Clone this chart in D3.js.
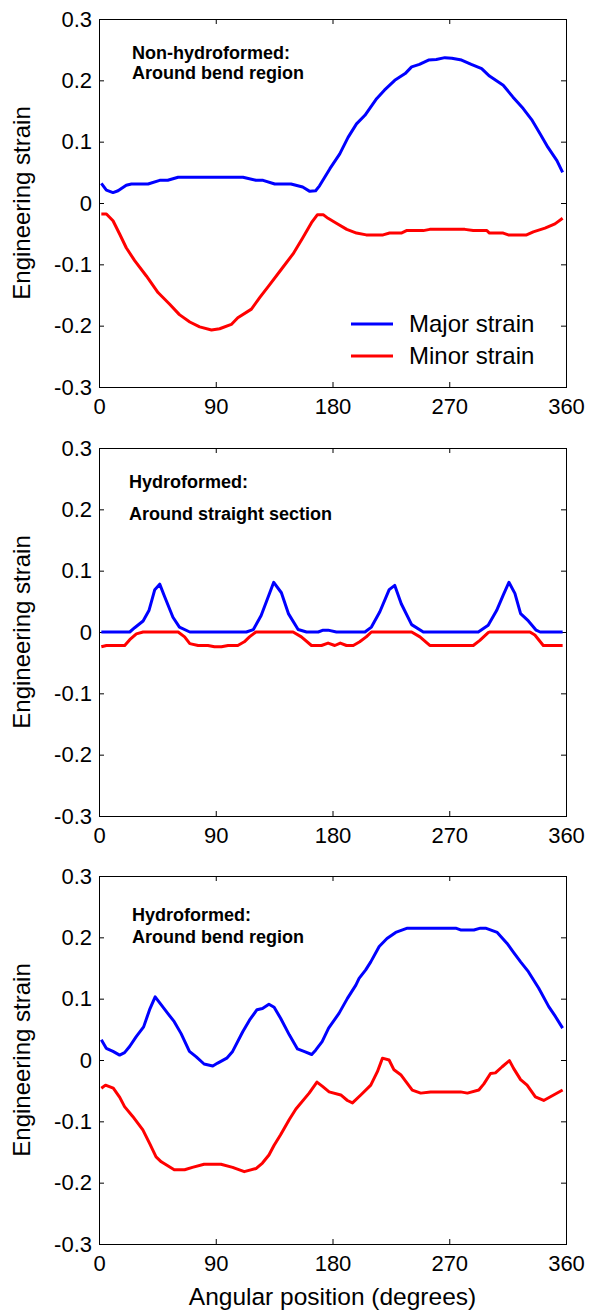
<!DOCTYPE html>
<html>
<head>
<meta charset="utf-8">
<script src="https://cdn.jsdelivr.net/npm/d3@7"></script>
<style>
  body { margin: 0; background: #fff; }
  text { font-family: "Liberation Sans", Arial, sans-serif; fill: #000; }
</style>
</head>
<body>
<div id="chart"></div>
<script>
// axis ticks
const xTicks = [0, 90, 180, 270, 360];
const yTicks = [-0.3, -0.2, -0.1, 0, 0.1, 0.2, 0.3];
const seriesNames = ["Major strain", "Minor strain"];

// panel titles
const titles = [
  ["Non-hydroformed:", "Around bend region"],
  ["Hydroformed:", "Around straight section"],
  ["Hydroformed:", "Around bend region"]
];

// [angle (deg), strain]
const bendMajor = [[1.8,0.032],[5.7,0.021],[10.8,0.017],[14.7,0.020],[21,0.029],[25,0.031],[37.8,0.031],[46.8,0.037],[53,0.037],[61,0.042],[70,0.042],[111,0.042],[121,0.037],[126.5,0.037],[135.5,0.031],[148,0.031],[157,0.026],[162.5,0.019],[167,0.020],[170,0.028],[178,0.056],[185.6,0.080],[192,0.107],[198.5,0.129],[205,0.143],[214,0.170],[220,0.184],[228,0.200],[236,0.211],[241,0.222],[247,0.226],[254,0.233],[260,0.234],[266.6,0.237],[272,0.236],[279.5,0.233],[287,0.226],[295,0.219],[301,0.207],[311.6,0.192],[319,0.173],[327,0.154],[333.5,0.136],[340,0.113],[346,0.091],[353,0.069],[357.4,0.050]];
const bendMinor = [[1.8,-0.018],[5.7,-0.018],[10.8,-0.029],[16,-0.051],[21,-0.073],[27.5,-0.094],[36.5,-0.119],[45.5,-0.146],[54.5,-0.165],[62,-0.182],[70,-0.194],[77.6,-0.202],[86.7,-0.207],[93,-0.205],[102,-0.198],[107,-0.187],[117.5,-0.173],[124,-0.154],[131.6,-0.133],[140.6,-0.108],[149.6,-0.083],[157,-0.057],[163.8,-0.032],[168.4,-0.019],[172.8,-0.019],[176.6,-0.025],[183,-0.033],[191,-0.043],[198.5,-0.049],[206,-0.052],[219,-0.052],[224,-0.049],[233,-0.049],[237,-0.045],[250,-0.045],[255,-0.043],[282,-0.043],[288.5,-0.045],[299,-0.045],[301,-0.049],[311.6,-0.049],[315.5,-0.052],[329.6,-0.052],[334.8,-0.047],[343.8,-0.041],[351.5,-0.034],[357.4,-0.025]];

const straightMajor = [[1.8,0],[23.7,0],[27.5,0.007],[34,0.018],[38.5,0.035],[43,0.069],[46.8,0.078],[50.7,0.057],[57,0.024],[62,0.008],[70,0],[113.6,0],[119,0.004],[125,0.027],[130.4,0.057],[134.7,0.081],[140.6,0.064],[146,0.030],[153.5,0.004],[160,0],[169,0],[172.8,0.003],[176.6,0.003],[183,0],[205,0],[210,0.008],[216.5,0.033],[223.7,0.069],[228,0.076],[233,0.046],[241,0.012],[250,0],[292.4,0],[300,0.011],[306.5,0.035],[311.6,0.060],[316,0.081],[320.6,0.063],[325,0.030],[331,0.018],[337,0.003],[340,0],[357.4,0]];
const straightMinor = [[1.8,-0.024],[5.7,-0.022],[19.8,-0.022],[23.7,-0.0125],[28.8,-0.003],[34,0],[61,0],[66,-0.008],[70,-0.019],[76.4,-0.022],[84,-0.022],[89,-0.024],[94.4,-0.024],[99.5,-0.022],[107,-0.022],[112,-0.016],[116,-0.008],[121,0],[149.6,0],[156,-0.008],[163.8,-0.022],[171.5,-0.022],[176.6,-0.018],[181.8,-0.022],[186,-0.018],[190.8,-0.022],[196,-0.022],[201,-0.016],[206,-0.008],[210,0],[241,0],[247.4,-0.008],[255,-0.022],[288.5,-0.022],[293.6,-0.0136],[300,-0.001],[301,0],[332.2,0],[336,-0.005],[342.5,-0.022],[357.4,-0.022]];

const hydroBendMajor = [[1.8,0.033],[5.6,0.019],[10.8,0.014],[15.9,0.008],[19.7,0.012],[23.6,0.022],[28.7,0.038],[34.4,0.054],[39,0.082],[43.3,0.103],[48,0.090],[53,0.076],[58,0.0625],[63.3,0.043],[69.7,0.014],[75,0.005],[81,-0.0065],[87.7,-0.0098],[91.5,-0.005],[98.5,0.003],[103,0.014],[110.8,0.046],[116,0.065],[121.8,0.082],[126,0.084],[131,0.091],[135,0.086],[140,0.068],[146.7,0.041],[153,0.018],[158,0.014],[164,0.009],[167,0.016],[172,0.030],[177,0.052],[185,0.076],[191.5,0.1005],[198,0.122],[200.5,0.133],[205.6,0.147],[209.5,0.160],[216,0.185],[222,0.198],[228.7,0.208],[237.7,0.215],[275,0.215],[278.7,0.212],[289,0.212],[294,0.215],[298,0.215],[307,0.208],[314.6,0.190],[319.7,0.175],[325,0.160],[331,0.144],[339,0.117],[346.7,0.087],[351.8,0.071],[357.4,0.052]];
const hydroBendMinor = [[1.8,-0.046],[5,-0.041],[11,-0.046],[16,-0.061],[19.7,-0.076],[26,-0.092],[33.8,-0.114],[39,-0.136],[44,-0.158],[48,-0.166],[58,-0.179],[66,-0.179],[72,-0.175],[81,-0.170],[94,-0.170],[103,-0.175],[112,-0.182],[121,-0.177],[126,-0.168],[131,-0.155],[135,-0.139],[140,-0.122],[146.7,-0.097],[151.8,-0.080],[162,-0.054],[168,-0.036],[172.3,-0.043],[177.4,-0.052],[186.4,-0.057],[191.5,-0.066],[195.4,-0.070],[201.8,-0.057],[209.5,-0.041],[214.6,-0.019],[218.5,0.003],[223.6,0],[227.4,-0.016],[232.6,-0.024],[241.5,-0.049],[248,-0.054],[255.6,-0.052],[278.7,-0.052],[284,-0.054],[292.8,-0.049],[296.7,-0.039],[301.8,-0.022],[305.6,-0.021],[310.8,-0.011],[316.4,-0.001],[319.7,-0.014],[325,-0.032],[330,-0.041],[336.4,-0.060],[342.8,-0.066],[348,-0.060],[357.4,-0.049]];

const panelSeries = [
  [bendMajor, bendMinor],
  [straightMajor, straightMinor],
  [hydroBendMajor, hydroBendMinor]
];

const width = 593, height = 1313;
const left = 99, right = 566, plotH = 368;
const panelTops = [19, 448, 876];
const titleOffsets = [[40, 60], [40, 72], [45, 67]];
const titleX = [132, 129, 132];
const colors = ["#0000ff", "#ff0000"];

const svg = d3.select("#chart")
  .append("svg")
  .attr("width", width)
  .attr("height", height);

const x = d3.scaleLinear().domain([0, 360]).range([left, right]);

panelSeries.forEach(function(series, i) {
  const top = panelTops[i];
  const y = d3.scaleLinear().domain([-0.3, 0.3]).range([top + plotH, top]);
  const g = svg.append("g");
  const fmt = d => d === 0 ? "0" : d3.format(".1f")(d).replace("−", "-");

  // bottom axis with labels, ticks pointing inward
  g.append("g")
    .attr("transform", `translate(0, ${top + plotH})`)
    .call(d3.axisBottom(x).tickValues(xTicks).tickSizeInner(-5).tickSizeOuter(0).tickPadding(11))
    .call(a => a.select(".domain").remove())
    .selectAll("text").style("font-size", "22px");

  // top axis, ticks only
  g.append("g")
    .attr("transform", `translate(0, ${top})`)
    .call(d3.axisTop(x).tickValues(xTicks).tickSizeInner(-5).tickSizeOuter(0).tickFormat(""))
    .call(a => a.select(".domain").remove());

  // left axis
  g.append("g")
    .attr("transform", `translate(${left}, 0)`)
    .call(d3.axisLeft(y).tickValues(yTicks).tickSizeInner(-5).tickSizeOuter(0).tickPadding(7).tickFormat(fmt))
    .call(a => a.select(".domain").remove())
    .selectAll("text").style("font-size", "22px");

  // right axis, ticks only
  g.append("g")
    .attr("transform", `translate(${right}, 0)`)
    .call(d3.axisRight(y).tickValues(yTicks).tickSizeInner(-5).tickSizeOuter(0).tickFormat(""))
    .call(a => a.select(".domain").remove());

  g.selectAll(".tick line").attr("stroke", "#000");

  // frame (half-pixel offset keeps it crisp)
  g.append("rect")
    .attr("x", left + 0.5)
    .attr("y", top + 0.5)
    .attr("width", right - left)
    .attr("height", plotH)
    .attr("fill", "none")
    .attr("stroke", "#000")
    .attr("stroke-width", 1);

  // y label
  g.append("text")
    .attr("transform", `translate(30, ${top + plotH / 2}) rotate(-90)`)
    .style("text-anchor", "middle")
    .style("font-size", "24px")
    .text("Engineering strain");

  // lines
  const line = d3.line().x(d => x(d[0])).y(d => y(d[1]));
  series.forEach(function(s, k) {
    g.append("path")
      .datum(s)
      .attr("d", line)
      .attr("fill", "none")
      .attr("stroke", colors[k])
      .attr("stroke-width", 3)
      .attr("stroke-linejoin", "round");
  });

  // panel title
  titles[i].forEach(function(t, k) {
    g.append("text")
      .attr("x", titleX[i])
      .attr("y", top + titleOffsets[i][k])
      .style("font-size", "18px")
      .style("font-weight", "bold")
      .text(t);
  });
});

// legend in first panel
const legend = svg.append("g");
const legendEntry = legend.selectAll("g")
  .data(seriesNames)
  .enter().append("g")
  .attr("transform", (d, i) => `translate(351, ${324 + i * 32})`);

legendEntry.append("line")
  .attr("x1", 0)
  .attr("x2", 42)
  .attr("stroke", (d, i) => colors[i])
  .attr("stroke-width", 3);

legendEntry.append("text")
  .attr("x", 58)
  .attr("y", 8)
  .style("font-size", "24px")
  .text(d => d);

// x label
svg.append("text")
  .attr("x", (left + right) / 2)
  .attr("y", 1305)
  .style("text-anchor", "middle")
  .style("font-size", "24.5px")
  .text("Angular position (degrees)");
</script>
</body>
</html>
